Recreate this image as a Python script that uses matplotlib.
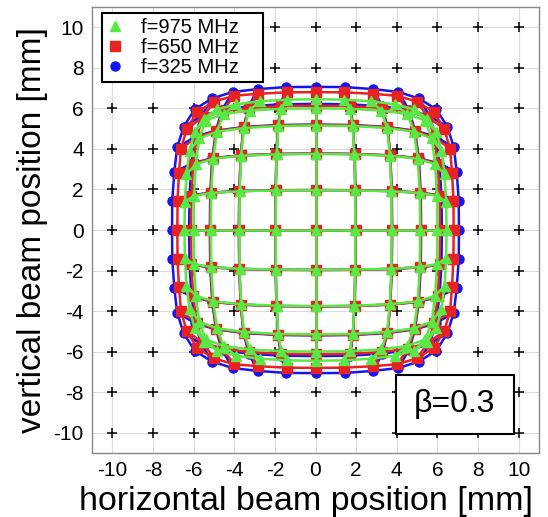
import numpy as np
import matplotlib
matplotlib.use('Agg')
import matplotlib.pyplot as plt
from matplotlib.patches import Rectangle

plt.rcParams['font.family'] = ['Liberation Sans', 'DejaVu Sans']
plt.rcParams['axes.unicode_minus'] = False

# true beam positions (one quadrant, mm)
true_pos = [0, 2, 4, 6, 8, 10]
# measured |x| [mm] for true (|X|, |Y|): rows = |Y|, columns = |X|
# (measured |y| follows from symmetry: my(X, Y) = mx(Y, X))
mx_325 = [
    [0, 1.97, 3.77, 5.20, 6.22, 7.06],
    [0, 1.96, 3.75, 5.18, 6.20, 7.05],
    [0, 1.92, 3.68, 5.08, 6.10, 6.95],
    [0, 1.84, 3.54, 4.90, 5.92, 6.81],
    [0, 1.70, 3.28, 4.60, 5.62, 6.49],
    [0, 1.45, 2.85, 4.07, 5.09, 5.95],
]
mx_650 = [
    [0, 1.97, 3.77, 5.18, 6.13, 6.80],
    [0, 1.96, 3.75, 5.16, 6.11, 6.79],
    [0, 1.92, 3.68, 5.06, 6.02, 6.72],
    [0, 1.84, 3.54, 4.88, 5.85, 6.62],
    [0, 1.69, 3.26, 4.57, 5.55, 6.33],
    [0, 1.42, 2.82, 4.02, 5.00, 5.82],
]
mx_975 = [
    [0, 1.96, 3.75, 5.15, 6.00, 6.45],
    [0, 1.95, 3.73, 5.13, 5.98, 6.43],
    [0, 1.91, 3.66, 5.03, 5.89, 6.35],
    [0, 1.83, 3.52, 4.85, 5.72, 6.20],
    [0, 1.68, 3.24, 4.52, 5.40, 5.95],
    [0, 1.40, 2.75, 3.90, 4.85, 5.50],
]
labels = ['f=325 MHz', 'f=650 MHz', 'f=975 MHz']
colors = ['#1414f0', '#e82222', '#5ae846']
markers = ['o', 's', '^']
ticks = [-10, -8, -6, -4, -2, 0, 2, 4, 6, 8, 10]


def full_grid(q):
    q = np.asarray(q, dtype=float)
    n = len(q)
    idx = np.arange(-(n - 1), n)
    MX = np.zeros((len(idx), len(idx)))
    MY = np.zeros_like(MX)
    for a, i in enumerate(idx):
        for b, j in enumerate(idx):
            MX[a, b] = np.sign(j) * q[abs(i), abs(j)]
            MY[a, b] = np.sign(i) * q[abs(j), abs(i)]
    return MX, MY


fig = plt.figure(figsize=(5.48, 5.17), dpi=100)
ax = fig.add_axes([92 / 548, 64 / 517, 447 / 548, 446 / 517])

# reference (true) positions
tp = np.array(ticks)
TX, TY = np.meshgrid(tp, tp)
ax.plot(TX.ravel(), TY.ravel(), '+', color='black', ms=6.5, mew=1.1, zorder=2)

handles = {}
for k, (q, c, m, lab) in enumerate(zip([mx_325, mx_650, mx_975], colors, markers, labels)):
    MX, MY = full_grid(q)
    z = 3 + k
    for a in range(MX.shape[0]):
        ax.plot(MX[a, :], MY[a, :], '-', color=c, lw=1.8, zorder=z)
        ax.plot(MX[:, a], MY[:, a], '-', color=c, lw=1.8, zorder=z)
    h, = ax.plot(MX.ravel(), MY.ravel(), m, color=c, ms=6.5, mec=c, ls='none', zorder=z + 0.5)
    handles[lab] = h

ax.set_xlim(-11, 11)
ax.set_ylim(-11, 11)
ax.set_xticks(ticks)
ax.set_yticks(ticks)
ax.grid(True, color='#dcdcdc', lw=0.8)
ax.set_axisbelow(True)
ax.tick_params(direction='in', length=0, labelsize=15, pad=6)
for s in ax.spines.values():
    s.set_color('#888888')
    s.set_linewidth(1.0)

ax.set_xlabel('horizontal beam position [mm]', fontsize=24.5, labelpad=1)
ax.set_ylabel('vertical beam position [mm]', fontsize=24, labelpad=4)
ax.xaxis.set_label_coords(0.478, -0.075)

leg = ax.legend([handles['f=975 MHz'], handles['f=650 MHz'], handles['f=325 MHz']],
                ['f=975 MHz', 'f=650 MHz', 'f=325 MHz'],
                loc='upper left', bbox_to_anchor=(0.022, 0.987, 0.36, 0.0), mode='expand',
                fontsize=14.5, frameon=True, fancybox=False, framealpha=1, edgecolor='black',
                handlelength=0.8, handletextpad=0.9, borderpad=0.25, labelspacing=0.05,
                borderaxespad=0)
leg.get_frame().set_linewidth(1.5)
leg.set_zorder(10)

box = Rectangle((3.95, -10.05), 5.8, 2.88, facecolor='white', edgecolor='black', lw=1.5, zorder=9)
ax.add_patch(box)
ax.text(6.85, -8.6, 'β=0.3', fontsize=23, ha='center', va='center', zorder=10)

fig.savefig('out.png', dpi=100)
